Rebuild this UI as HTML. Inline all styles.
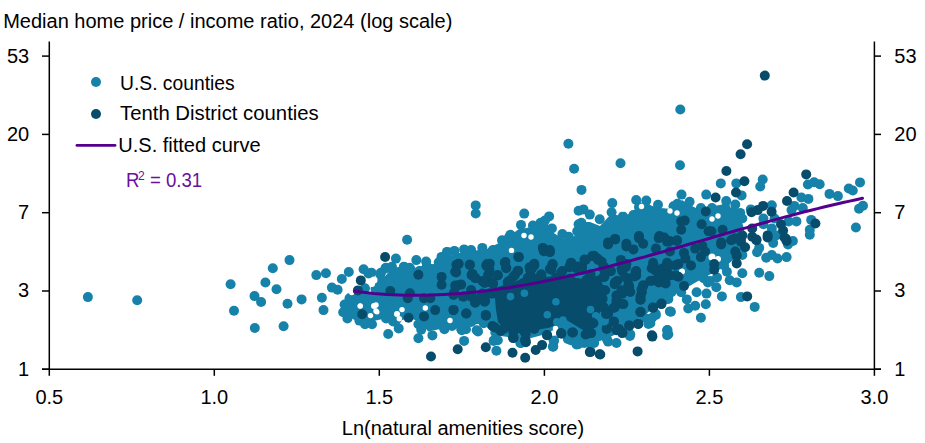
<!DOCTYPE html>
<html><head><meta charset="utf-8"><style>
html,body{margin:0;padding:0;background:#fff;width:925px;height:443px;overflow:hidden}
.t{position:absolute;font-family:"Liberation Sans",sans-serif;font-size:20px;line-height:20px;color:#000;white-space:pre;transform-origin:0 0}
svg{position:absolute;left:0;top:0}
</style></head><body>
<svg width="925" height="443" viewBox="0 0 925 443">
<g fill="#1682aa"><polygon points="341.8,303.9 349.6,292 360,291 370,293 380,290 384,278 390,270 410,271 418,266 430,266 443.9,258 455,254 463.5,252 487.1,248.9 502.8,241.1 518.5,229.3 538.2,226 547,223 552,232 562,238 570,240 577,233 581,222 590,222 600,226 611,214 622,216 633,213 637,204 647,204 658,208 673,209 682,200 690,205 700,210 713.6,205.9 726,204 736,212 743,225 746,240 738,256 726,266 705.3,276.9 676,293.6 651,310.3 634.3,322.8 613.4,335.4 585.3,347.1 568,340 560,329 550,333 526.4,339.3 495,335.3 483.2,323.5 447.8,327.5 428.2,331.4 420,322 410,318 402,320 397,328 388,318 378,320 365,323 353.6,319.6 341.8,311.8"/><circle cx="680" cy="165.3" r="5.0"/><circle cx="848.8" cy="188.5" r="5.0"/><circle cx="852.8" cy="190.5" r="5.0"/><circle cx="860" cy="182.4" r="5.0"/><circle cx="863" cy="205.7" r="5.0"/><circle cx="859" cy="208.8" r="5.0"/><circle cx="855.9" cy="227.5" r="5.0"/><circle cx="234" cy="310.8" r="5.0"/><circle cx="254.8" cy="328" r="5.0"/><circle cx="283.6" cy="326.2" r="5.0"/><circle cx="754.7" cy="306.9" r="5.0"/><circle cx="444.4" cy="329.3" r="5.0"/><circle cx="452" cy="326" r="5.0"/><circle cx="461.8" cy="330.3" r="5.0"/><circle cx="466" cy="329.3" r="5.0"/><circle cx="478" cy="331.4" r="5.0"/><circle cx="494.3" cy="340.1" r="5.0"/><circle cx="495.3" cy="332.5" r="5.0"/><circle cx="87.9" cy="297.1" r="5.0"/><circle cx="137.2" cy="300.3" r="5.0"/><circle cx="230.6" cy="284.3" r="5.0"/><circle cx="272.8" cy="268.3" r="5.0"/><circle cx="289.5" cy="260.1" r="5.0"/><circle cx="265.4" cy="282.5" r="5.0"/><circle cx="276.5" cy="289.3" r="5.0"/><circle cx="254.5" cy="296.1" r="5.0"/><circle cx="261.1" cy="302" r="5.0"/><circle cx="287.5" cy="303.7" r="5.0"/><circle cx="301.6" cy="299.4" r="5.0"/><circle cx="316.3" cy="275.1" r="5.0"/><circle cx="325.9" cy="273.2" r="5.0"/><circle cx="321.9" cy="297.8" r="5.0"/><circle cx="568.4" cy="143.8" r="5.0"/><circle cx="574.1" cy="168.7" r="5.0"/><circle cx="620.5" cy="163.2" r="5.0"/><circle cx="581.5" cy="189.9" r="5.0"/><circle cx="475.7" cy="205.4" r="5.0"/><circle cx="475.7" cy="213.5" r="5.0"/><circle cx="680.3" cy="109.5" r="5.0"/><circle cx="720.8" cy="183.4" r="5.0"/><circle cx="736.3" cy="183.4" r="5.0"/><circle cx="762.7" cy="179.5" r="5.0"/><circle cx="760.2" cy="186.5" r="5.0"/><circle cx="807.9" cy="184.5" r="5.0"/><circle cx="814.1" cy="182.3" r="5.0"/><circle cx="819.7" cy="184.2" r="5.0"/><circle cx="612.3" cy="203.1" r="5.0"/><circle cx="636.2" cy="200" r="5.0"/><circle cx="646.3" cy="200.6" r="5.0"/><circle cx="639" cy="207" r="5.0"/><circle cx="658" cy="204.8" r="5.0"/><circle cx="673.5" cy="206.2" r="5.0"/><circle cx="677.4" cy="203.8" r="5.0"/><circle cx="681.5" cy="194.6" r="5.0"/><circle cx="689.6" cy="201.7" r="5.0"/><circle cx="706.2" cy="194.6" r="5.0"/><circle cx="583.5" cy="209.4" r="5.0"/><circle cx="589.8" cy="214.6" r="5.0"/><circle cx="599.7" cy="219.2" r="5.0"/><circle cx="611.6" cy="212.2" r="5.0"/><circle cx="622.9" cy="216.4" r="5.0"/><circle cx="633.4" cy="215" r="5.0"/><circle cx="647.5" cy="209.4" r="5.0"/><circle cx="662.9" cy="213.6" r="5.0"/><circle cx="671.4" cy="217.1" r="5.0"/><circle cx="686.8" cy="217.1" r="5.0"/><circle cx="696.6" cy="215" r="5.0"/><circle cx="700.9" cy="208" r="5.0"/><circle cx="581.4" cy="222.8" r="5.0"/><circle cx="587" cy="228.4" r="5.0"/><circle cx="829.5" cy="193.9" r="5.0"/><circle cx="837.9" cy="196.1" r="5.0"/><circle cx="741.6" cy="195.4" r="5.0"/><circle cx="726.2" cy="201" r="5.0"/><circle cx="725.5" cy="208" r="5.0"/><circle cx="735.3" cy="204.5" r="5.0"/><circle cx="733.9" cy="211.5" r="5.0"/><circle cx="740.2" cy="212.9" r="5.0"/><circle cx="712" cy="208" r="5.0"/><circle cx="750.8" cy="209.4" r="5.0"/><circle cx="771.8" cy="205.2" r="5.0"/><circle cx="801.4" cy="197.5" r="5.0"/><circle cx="808.4" cy="198.9" r="5.0"/><circle cx="794.3" cy="205.9" r="5.0"/><circle cx="791.5" cy="210.1" r="5.0"/><circle cx="802.8" cy="208" r="5.0"/><circle cx="796.4" cy="221.4" r="5.0"/><circle cx="788.7" cy="221.4" r="5.0"/><circle cx="811.2" cy="219.9" r="5.0"/><circle cx="809.8" cy="229.8" r="5.0"/><circle cx="809.8" cy="234.7" r="5.0"/><circle cx="763.4" cy="218.5" r="5.0"/><circle cx="763.4" cy="224.2" r="5.0"/><circle cx="774.6" cy="218.5" r="5.0"/><circle cx="771.8" cy="228.4" r="5.0"/><circle cx="776.1" cy="235.4" r="5.0"/><circle cx="715.6" cy="222.8" r="5.0"/><circle cx="726.9" cy="221.4" r="5.0"/><circle cx="736.7" cy="222.8" r="5.0"/><circle cx="742.3" cy="218.5" r="5.0"/><circle cx="732.5" cy="217.1" r="5.0"/><circle cx="710" cy="217.1" r="5.0"/><circle cx="792.9" cy="241" r="5.0"/><circle cx="524.2" cy="213.6" r="5.0"/><circle cx="521" cy="224.9" r="5.0"/><circle cx="532.9" cy="225.6" r="5.0"/><circle cx="540.6" cy="222.8" r="5.0"/><circle cx="549.1" cy="216.4" r="5.0"/><circle cx="544.9" cy="220.6" r="5.0"/><circle cx="551.9" cy="228.4" r="5.0"/><circle cx="541.4" cy="232.6" r="5.0"/><circle cx="548.4" cy="235.4" r="5.0"/><circle cx="562.4" cy="234" r="5.0"/><circle cx="568.8" cy="236.8" r="5.0"/><circle cx="577.2" cy="231.2" r="5.0"/><circle cx="578.6" cy="224.2" r="5.0"/><circle cx="578.6" cy="210.8" r="5.0"/><circle cx="510.4" cy="234.7" r="5.0"/><circle cx="502" cy="240.3" r="5.0"/><circle cx="523.1" cy="241" r="5.0"/><circle cx="534.3" cy="241" r="5.0"/><circle cx="558.2" cy="241" r="5.0"/><circle cx="407.1" cy="239.7" r="5.0"/><circle cx="395.9" cy="258.6" r="5.0"/><circle cx="416.3" cy="260.1" r="5.0"/><circle cx="426.1" cy="261.5" r="5.0"/><circle cx="447.2" cy="252.3" r="5.0"/><circle cx="444.4" cy="257.2" r="5.0"/><circle cx="438.8" cy="262.2" r="5.0"/><circle cx="348.8" cy="272" r="5.0"/><circle cx="363.6" cy="269.2" r="5.0"/><circle cx="368.5" cy="273.4" r="5.0"/><circle cx="341.8" cy="279" r="5.0"/><circle cx="385.4" cy="268.5" r="5.0"/><circle cx="391.7" cy="267.8" r="5.0"/><circle cx="404.3" cy="267.1" r="5.0"/><circle cx="409.9" cy="268.5" r="5.0"/><circle cx="380.4" cy="274.1" r="5.0"/><circle cx="398.7" cy="272" r="5.0"/><circle cx="426.8" cy="266.4" r="5.0"/><circle cx="432.4" cy="269.2" r="5.0"/><circle cx="379" cy="280.4" r="5.0"/><circle cx="387.5" cy="280.4" r="5.0"/><circle cx="323.5" cy="310.1" r="5.0"/><circle cx="331.9" cy="287.6" r="5.0"/><circle cx="337.6" cy="289.7" r="5.0"/><circle cx="365" cy="288.3" r="5.0"/><circle cx="344.6" cy="304.5" r="5.0"/><circle cx="349.5" cy="298.2" r="5.0"/><circle cx="343.2" cy="312.2" r="5.0"/><circle cx="347.4" cy="318.5" r="5.0"/><circle cx="354.4" cy="301.7" r="5.0"/><circle cx="368.5" cy="303.1" r="5.0"/><circle cx="359.4" cy="320.6" r="5.0"/><circle cx="365" cy="324.2" r="5.0"/><circle cx="372" cy="324.2" r="5.0"/><circle cx="355.8" cy="308.7" r="5.0"/><circle cx="376.2" cy="314.3" r="5.0"/><circle cx="380.4" cy="310.1" r="5.0"/><circle cx="375.5" cy="289" r="5.0"/><circle cx="377.6" cy="297.5" r="5.0"/><circle cx="395.9" cy="301.7" r="5.0"/><circle cx="386.1" cy="318.5" r="5.0"/><circle cx="393.1" cy="321.4" r="5.0"/><circle cx="398.7" cy="328.4" r="5.0"/><circle cx="388.2" cy="334" r="5.0"/><circle cx="407.1" cy="308.7" r="5.0"/><circle cx="402.9" cy="313.6" r="5.0"/><circle cx="418.4" cy="305.2" r="5.0"/><circle cx="415.6" cy="310.1" r="5.0"/><circle cx="418.4" cy="324.2" r="5.0"/><circle cx="421.2" cy="329.8" r="5.0"/><circle cx="418.4" cy="338.2" r="5.0"/><circle cx="432.4" cy="335.4" r="5.0"/><circle cx="443.7" cy="327" r="5.0"/><circle cx="446.5" cy="318.5" r="5.0"/><circle cx="438.1" cy="318.5" r="5.0"/><circle cx="398.7" cy="283.4" r="5.0"/><circle cx="418.4" cy="284.8" r="5.0"/><circle cx="380.4" cy="284.8" r="5.0"/><circle cx="454.2" cy="251.5" r="5.0"/><circle cx="464.1" cy="249.4" r="5.0"/><circle cx="471.1" cy="250.1" r="5.0"/><circle cx="482.3" cy="247.9" r="5.0"/><circle cx="492.9" cy="250.1" r="5.0"/><circle cx="509" cy="237.4" r="5.0"/><circle cx="528.7" cy="240.2" r="5.0"/><circle cx="535.7" cy="237.4" r="5.0"/><circle cx="464.1" cy="340.9" r="5.0"/><circle cx="496.4" cy="350.7" r="5.0"/><circle cx="493.6" cy="340.9" r="5.0"/><circle cx="553.3" cy="346.5" r="5.0"/><circle cx="554" cy="340.9" r="5.0"/><circle cx="520.3" cy="343" r="5.0"/><circle cx="570.9" cy="340.2" r="5.0"/><circle cx="576.5" cy="344.4" r="5.0"/><circle cx="565.2" cy="324.7" r="5.0"/><circle cx="452.8" cy="324.7" r="5.0"/><circle cx="461.2" cy="328.9" r="5.0"/><circle cx="476.7" cy="330.3" r="5.0"/><circle cx="483.7" cy="323.3" r="5.0"/><circle cx="471.1" cy="321.9" r="5.0"/><circle cx="457" cy="305" r="5.0"/><circle cx="471.1" cy="306.4" r="5.0"/><circle cx="489.4" cy="306.4" r="5.0"/><circle cx="706.5" cy="262.7" r="5.0"/><circle cx="703.7" cy="278.2" r="5.0"/><circle cx="707.9" cy="282.4" r="5.0"/><circle cx="696.6" cy="273.9" r="5.0"/><circle cx="686.8" cy="273.9" r="5.0"/><circle cx="671.4" cy="292.2" r="5.0"/><circle cx="681.2" cy="292.2" r="5.0"/><circle cx="696.6" cy="292.2" r="5.0"/><circle cx="706.5" cy="293.6" r="5.0"/><circle cx="658.7" cy="295" r="5.0"/><circle cx="688.2" cy="281" r="5.0"/><circle cx="669.9" cy="311.4" r="5.0"/><circle cx="667.1" cy="330.3" r="5.0"/><circle cx="667.1" cy="335.2" r="5.0"/><circle cx="688.2" cy="308.5" r="5.0"/><circle cx="695.2" cy="305.7" r="5.0"/><circle cx="700.9" cy="317.7" r="5.0"/><circle cx="705.8" cy="304.3" r="5.0"/><circle cx="686.8" cy="299.4" r="5.0"/><circle cx="667.1" cy="298.7" r="5.0"/><circle cx="650.3" cy="323.3" r="5.0"/><circle cx="655.9" cy="314.9" r="5.0"/><circle cx="644.6" cy="317.7" r="5.0"/><circle cx="629.9" cy="335.9" r="5.0"/><circle cx="616.5" cy="343" r="5.0"/><circle cx="608.1" cy="341.6" r="5.0"/><circle cx="594.1" cy="343" r="5.0"/><circle cx="584.2" cy="343" r="5.0"/><circle cx="626.4" cy="316.3" r="5.0"/><circle cx="630.6" cy="310.6" r="5.0"/><circle cx="773.2" cy="243" r="5.0"/><circle cx="788" cy="244.4" r="5.0"/><circle cx="759.2" cy="247.9" r="5.0"/><circle cx="757.1" cy="252.2" r="5.0"/><circle cx="766.2" cy="257.8" r="5.0"/><circle cx="771.8" cy="255" r="5.0"/><circle cx="777.5" cy="258.5" r="5.0"/><circle cx="786.6" cy="257.1" r="5.0"/><circle cx="742.3" cy="255" r="5.0"/><circle cx="728.3" cy="250.1" r="5.0"/><circle cx="715.6" cy="251.5" r="5.0"/><circle cx="717" cy="257.1" r="5.0"/><circle cx="724.1" cy="265.5" r="5.0"/><circle cx="726.9" cy="271.8" r="5.0"/><circle cx="742.3" cy="273.2" r="5.0"/><circle cx="759.2" cy="272.8" r="5.0"/><circle cx="769.3" cy="276.1" r="5.0"/><circle cx="729.7" cy="280.3" r="5.0"/><circle cx="736.7" cy="282.4" r="5.0"/><circle cx="717" cy="277.5" r="5.0"/><circle cx="716.3" cy="287.3" r="5.0"/><circle cx="710" cy="281" r="5.0"/><circle cx="721.9" cy="296.4" r="5.0"/><circle cx="740.9" cy="297.1" r="5.0"/><circle cx="447" cy="251.9" r="5.0"/><circle cx="454.4" cy="250.9" r="5.0"/><circle cx="439.5" cy="262.8" r="5.0"/><circle cx="441.5" cy="256.9" r="5.0"/><circle cx="385.9" cy="267.8" r="5.0"/><circle cx="391.9" cy="266.8" r="5.0"/><circle cx="403.8" cy="266.8" r="5.0"/><circle cx="409.7" cy="267.8" r="5.0"/><circle cx="380.9" cy="272.7" r="5.0"/><circle cx="371.5" cy="272.7" r="5.0"/><circle cx="429.6" cy="268.8" r="5.0"/><circle cx="497.8" cy="340.3" r="5.0"/><circle cx="521.1" cy="342.9" r="5.0"/><circle cx="553.6" cy="340.3" r="5.0"/><circle cx="552.9" cy="346.8" r="5.0"/><circle cx="567.8" cy="339" r="5.0"/><circle cx="578.2" cy="344.2" r="5.0"/><circle cx="588.6" cy="342.9" r="5.0"/><circle cx="606.8" cy="339" r="5.0"/><circle cx="670.9" cy="311.8" r="5.0"/><circle cx="667.5" cy="330" r="5.0"/><circle cx="668.3" cy="334.3" r="5.0"/><circle cx="651.9" cy="317.9" r="5.0"/><circle cx="655.4" cy="313.6" r="5.0"/><circle cx="648.4" cy="323.9" r="5.0"/><circle cx="628.5" cy="317" r="5.0"/><circle cx="632.9" cy="313.6" r="5.0"/><circle cx="630.3" cy="334.3" r="5.0"/><circle cx="601.7" cy="318.8" r="5.0"/><circle cx="602.6" cy="332.6" r="5.0"/><circle cx="628.5" cy="299.7" r="5.0"/><circle cx="668.3" cy="298.9" r="5.0"/></g>
<g fill="#fff"><circle cx="351.7" cy="292.5" r="2.7"/><circle cx="376" cy="305" r="2.7"/><circle cx="376" cy="311" r="2.7"/><circle cx="370.5" cy="315.6" r="2.7"/><circle cx="402" cy="309.6" r="2.7"/><circle cx="425.3" cy="308" r="2.7"/><circle cx="399.3" cy="318.8" r="2.7"/><circle cx="410.2" cy="327.5" r="2.7"/><circle cx="524" cy="235.5" r="2.7"/><circle cx="531" cy="237" r="2.7"/><circle cx="511.5" cy="250.4" r="2.7"/><circle cx="555.5" cy="328.5" r="2.7"/><circle cx="553.5" cy="333" r="2.7"/><circle cx="487.4" cy="331" r="2.7"/><circle cx="450" cy="320.5" r="2.7"/><circle cx="360.3" cy="306" r="2.7"/><circle cx="670" cy="211" r="2.7"/><circle cx="677" cy="213" r="2.7"/><circle cx="712" cy="219" r="2.7"/><circle cx="718" cy="216" r="2.7"/><circle cx="623" cy="209" r="2.7"/><circle cx="641.5" cy="206.5" r="2.7"/><circle cx="374" cy="280" r="3.5"/><circle cx="372" cy="284" r="3.0"/><circle cx="360" cy="306" r="2.5"/><circle cx="374" cy="306" r="3.0"/><circle cx="377" cy="312" r="2.5"/><circle cx="397" cy="314" r="3.0"/><circle cx="712" cy="257" r="3.5"/><circle cx="718" cy="259" r="3.0"/><circle cx="682" cy="271.5" r="3.0"/></g>
<g fill="#084c6c"><polygon points="494,288.2 518.5,280.3 550,276.4 581.4,280.3 600,275 604,290 600,312 592.5,330 585.3,331.4 565.7,319.6 550,327.5 530,331 515,334 505,329 498,322 496,310"/><circle cx="431" cy="356.5" r="5.0"/><circle cx="492.5" cy="326" r="5.0"/><circle cx="500.6" cy="331" r="5.0"/><circle cx="513.5" cy="337.5" r="5.0"/><circle cx="525.5" cy="340" r="5.0"/><circle cx="764.8" cy="75.6" r="5.0"/><circle cx="747.1" cy="144.3" r="5.0"/><circle cx="740.6" cy="154.2" r="5.0"/><circle cx="726.4" cy="171" r="5.0"/><circle cx="806.2" cy="174.4" r="5.0"/><circle cx="744.4" cy="181.3" r="5.0"/><circle cx="681.2" cy="221.4" r="5.0"/><circle cx="684.7" cy="220.6" r="5.0"/><circle cx="681.2" cy="229.8" r="5.0"/><circle cx="701.6" cy="224.2" r="5.0"/><circle cx="705.8" cy="211.5" r="5.0"/><circle cx="708.6" cy="231.2" r="5.0"/><circle cx="639" cy="236.1" r="5.0"/><circle cx="659.4" cy="236.1" r="5.0"/><circle cx="664.3" cy="237.5" r="5.0"/><circle cx="677" cy="240.3" r="5.0"/><circle cx="615.1" cy="238.9" r="5.0"/><circle cx="608.1" cy="242.4" r="5.0"/><circle cx="626.4" cy="243.8" r="5.0"/><circle cx="669.9" cy="241" r="5.0"/><circle cx="715.6" cy="197.5" r="5.0"/><circle cx="736" cy="192.5" r="5.0"/><circle cx="751.5" cy="212.2" r="5.0"/><circle cx="757.8" cy="210.1" r="5.0"/><circle cx="763.1" cy="205.9" r="5.0"/><circle cx="771.6" cy="211.8" r="5.0"/><circle cx="787" cy="201" r="5.0"/><circle cx="793.6" cy="192.5" r="5.0"/><circle cx="815.4" cy="223.5" r="5.0"/><circle cx="781" cy="224.2" r="5.0"/><circle cx="783.1" cy="230.5" r="5.0"/><circle cx="784.5" cy="237.5" r="5.0"/><circle cx="786.6" cy="241" r="5.0"/><circle cx="767.6" cy="235.4" r="5.0"/><circle cx="752.2" cy="228.4" r="5.0"/><circle cx="752.2" cy="236.8" r="5.0"/><circle cx="756.4" cy="239.6" r="5.0"/><circle cx="742.3" cy="235.4" r="5.0"/><circle cx="735.3" cy="238.2" r="5.0"/><circle cx="731.1" cy="240.3" r="5.0"/><circle cx="722.6" cy="229.8" r="5.0"/><circle cx="711.4" cy="231.2" r="5.0"/><circle cx="721.2" cy="242.4" r="5.0"/><circle cx="385.1" cy="257" r="5.0"/><circle cx="360.8" cy="280.4" r="5.0"/><circle cx="418.4" cy="274.8" r="5.0"/><circle cx="441.6" cy="276.9" r="5.0"/><circle cx="357.9" cy="290.4" r="5.0"/><circle cx="362.2" cy="314.3" r="5.0"/><circle cx="390.3" cy="291.1" r="5.0"/><circle cx="409.9" cy="293.2" r="5.0"/><circle cx="407.8" cy="298.2" r="5.0"/><circle cx="408.5" cy="317.8" r="5.0"/><circle cx="424" cy="298.2" r="5.0"/><circle cx="430.3" cy="298.2" r="5.0"/><circle cx="424" cy="316.4" r="5.0"/><circle cx="435.2" cy="310.1" r="5.0"/><circle cx="441.6" cy="284.8" r="5.0"/><circle cx="542.8" cy="247.9" r="5.0"/><circle cx="549.8" cy="250.1" r="5.0"/><circle cx="518.9" cy="257.1" r="5.0"/><circle cx="458.4" cy="264.1" r="5.0"/><circle cx="455.6" cy="271.8" r="5.0"/><circle cx="469.7" cy="264.8" r="5.0"/><circle cx="472.5" cy="273.9" r="5.0"/><circle cx="475.3" cy="278.2" r="5.0"/><circle cx="487.2" cy="264.1" r="5.0"/><circle cx="489.4" cy="269.7" r="5.0"/><circle cx="497.8" cy="275.4" r="5.0"/><circle cx="504.8" cy="262.7" r="5.0"/><circle cx="506.2" cy="267.6" r="5.0"/><circle cx="517.5" cy="271.1" r="5.0"/><circle cx="513.2" cy="276.8" r="5.0"/><circle cx="507.6" cy="282.4" r="5.0"/><circle cx="482.3" cy="281" r="5.0"/><circle cx="490.8" cy="282.4" r="5.0"/><circle cx="458.4" cy="285.2" r="5.0"/><circle cx="471.1" cy="290.1" r="5.0"/><circle cx="454.2" cy="292.2" r="5.0"/><circle cx="534.3" cy="265.5" r="5.0"/><circle cx="530.1" cy="269.7" r="5.0"/><circle cx="541.4" cy="275.4" r="5.0"/><circle cx="528.7" cy="278.2" r="5.0"/><circle cx="523.1" cy="283.8" r="5.0"/><circle cx="552.6" cy="264.1" r="5.0"/><circle cx="551.2" cy="269.7" r="5.0"/><circle cx="562.4" cy="271.1" r="5.0"/><circle cx="570.9" cy="262.7" r="5.0"/><circle cx="569.5" cy="266.9" r="5.0"/><circle cx="576.5" cy="268.3" r="5.0"/><circle cx="537.1" cy="285.2" r="5.0"/><circle cx="548.4" cy="282.4" r="5.0"/><circle cx="562.4" cy="283.8" r="5.0"/><circle cx="573.7" cy="282.4" r="5.0"/><circle cx="534.3" cy="292.2" r="5.0"/><circle cx="548.4" cy="292.2" r="5.0"/><circle cx="562.4" cy="293.6" r="5.0"/><circle cx="576.5" cy="292.2" r="5.0"/><circle cx="492.2" cy="293.6" r="5.0"/><circle cx="506.2" cy="293.6" r="5.0"/><circle cx="520.3" cy="293.6" r="5.0"/><circle cx="482.3" cy="293.6" r="5.0"/><circle cx="464.1" cy="296.4" r="5.0"/><circle cx="457.7" cy="349.3" r="5.0"/><circle cx="485.8" cy="347.2" r="5.0"/><circle cx="512.5" cy="352.8" r="5.0"/><circle cx="525.2" cy="357.7" r="5.0"/><circle cx="535.7" cy="350" r="5.0"/><circle cx="542.1" cy="345.1" r="5.0"/><circle cx="547" cy="335.2" r="5.0"/><circle cx="525.9" cy="342.3" r="5.0"/><circle cx="513.2" cy="338.1" r="5.0"/><circle cx="561" cy="333.1" r="5.0"/><circle cx="572.3" cy="332.4" r="5.0"/><circle cx="453.5" cy="309.9" r="5.0"/><circle cx="466.2" cy="313.5" r="5.0"/><circle cx="485.8" cy="314.9" r="5.0"/><circle cx="475.3" cy="302.2" r="5.0"/><circle cx="485.1" cy="300.8" r="5.0"/><circle cx="495" cy="327.5" r="5.0"/><circle cx="503.4" cy="328.9" r="5.0"/><circle cx="513.2" cy="331.7" r="5.0"/><circle cx="524.5" cy="331.7" r="5.0"/><circle cx="534.3" cy="328.9" r="5.0"/><circle cx="545.6" cy="323.3" r="5.0"/><circle cx="608.1" cy="244.4" r="5.0"/><circle cx="615.1" cy="239.5" r="5.0"/><circle cx="626.4" cy="246.5" r="5.0"/><circle cx="633.4" cy="249.4" r="5.0"/><circle cx="639" cy="238.1" r="5.0"/><circle cx="643.2" cy="243.7" r="5.0"/><circle cx="655.9" cy="248.6" r="5.0"/><circle cx="658.7" cy="238.1" r="5.0"/><circle cx="667.1" cy="241.6" r="5.0"/><circle cx="677" cy="240.9" r="5.0"/><circle cx="669.9" cy="251.5" r="5.0"/><circle cx="684" cy="252.9" r="5.0"/><circle cx="685.4" cy="258.5" r="5.0"/><circle cx="695.2" cy="248.6" r="5.0"/><circle cx="702.3" cy="245.8" r="5.0"/><circle cx="700.9" cy="257.1" r="5.0"/><circle cx="705.1" cy="251.5" r="5.0"/><circle cx="585.6" cy="259.9" r="5.0"/><circle cx="594.1" cy="255.7" r="5.0"/><circle cx="598.3" cy="259.9" r="5.0"/><circle cx="582.1" cy="266.9" r="5.0"/><circle cx="620.8" cy="259.9" r="5.0"/><circle cx="626.4" cy="264.1" r="5.0"/><circle cx="603.9" cy="266.9" r="5.0"/><circle cx="610.9" cy="271.1" r="5.0"/><circle cx="622.2" cy="271.1" r="5.0"/><circle cx="636.2" cy="271.1" r="5.0"/><circle cx="636.2" cy="275.4" r="5.0"/><circle cx="627.8" cy="278.2" r="5.0"/><circle cx="615.1" cy="282.4" r="5.0"/><circle cx="629.2" cy="286.6" r="5.0"/><circle cx="603.9" cy="276.8" r="5.0"/><circle cx="588.4" cy="278.2" r="5.0"/><circle cx="585.6" cy="288" r="5.0"/><circle cx="601.1" cy="289.4" r="5.0"/><circle cx="622.2" cy="293.6" r="5.0"/><circle cx="594.1" cy="295" r="5.0"/><circle cx="653.1" cy="262.7" r="5.0"/><circle cx="651.7" cy="268.3" r="5.0"/><circle cx="667.1" cy="262.7" r="5.0"/><circle cx="667.1" cy="268.3" r="5.0"/><circle cx="658.7" cy="275.4" r="5.0"/><circle cx="669.9" cy="275.4" r="5.0"/><circle cx="678.4" cy="264.1" r="5.0"/><circle cx="691" cy="265.5" r="5.0"/><circle cx="678.4" cy="276.8" r="5.0"/><circle cx="664.3" cy="282.4" r="5.0"/><circle cx="650.3" cy="281" r="5.0"/><circle cx="643.2" cy="285.2" r="5.0"/><circle cx="641.8" cy="292.2" r="5.0"/><circle cx="684" cy="285.9" r="5.0"/><circle cx="582.8" cy="300.8" r="5.0"/><circle cx="594.1" cy="300.8" r="5.0"/><circle cx="582.8" cy="310.6" r="5.0"/><circle cx="587" cy="316.3" r="5.0"/><circle cx="580" cy="321.9" r="5.0"/><circle cx="593.4" cy="323.3" r="5.0"/><circle cx="603.9" cy="307.8" r="5.0"/><circle cx="608.1" cy="313.5" r="5.0"/><circle cx="613.7" cy="307.8" r="5.0"/><circle cx="620.8" cy="303.6" r="5.0"/><circle cx="640.4" cy="299.4" r="5.0"/><circle cx="640.4" cy="312.1" r="5.0"/><circle cx="653.1" cy="307.8" r="5.0"/><circle cx="661.5" cy="303.6" r="5.0"/><circle cx="613.7" cy="321.9" r="5.0"/><circle cx="606.7" cy="328.9" r="5.0"/><circle cx="616.5" cy="330.3" r="5.0"/><circle cx="622.2" cy="333.1" r="5.0"/><circle cx="629.2" cy="325.4" r="5.0"/><circle cx="638.3" cy="324" r="5.0"/><circle cx="585.6" cy="334.5" r="5.0"/><circle cx="591.2" cy="333.1" r="5.0"/><circle cx="652.4" cy="336.6" r="5.0"/><circle cx="637.6" cy="351.4" r="5.0"/><circle cx="589.8" cy="352.1" r="5.0"/><circle cx="599.7" cy="354.2" r="5.0"/><circle cx="721.2" cy="244.4" r="5.0"/><circle cx="732.5" cy="239.5" r="5.0"/><circle cx="740.9" cy="241.6" r="5.0"/><circle cx="745.1" cy="247.2" r="5.0"/><circle cx="735.3" cy="251.5" r="5.0"/><circle cx="736.7" cy="255.7" r="5.0"/><circle cx="736.7" cy="263.4" r="5.0"/><circle cx="756.4" cy="240.2" r="5.0"/><circle cx="767.6" cy="237.4" r="5.0"/><circle cx="785.9" cy="238.8" r="5.0"/><circle cx="714.2" cy="264.1" r="5.0"/><circle cx="714.2" cy="269.7" r="5.0"/><circle cx="747.2" cy="296.4" r="5.0"/><circle cx="458.6" cy="263.8" r="5.0"/><circle cx="456.1" cy="272.5" r="5.0"/><circle cx="469.9" cy="264.7" r="5.0"/><circle cx="471.6" cy="275.1" r="5.0"/><circle cx="475.1" cy="277.7" r="5.0"/><circle cx="486.3" cy="265.6" r="5.0"/><circle cx="489.8" cy="263.8" r="5.0"/><circle cx="488.1" cy="275.1" r="5.0"/><circle cx="497.6" cy="275.1" r="5.0"/><circle cx="484.6" cy="282.9" r="5.0"/><circle cx="493.2" cy="283.7" r="5.0"/><circle cx="505.4" cy="262.1" r="5.0"/><circle cx="506.2" cy="268.2" r="5.0"/><circle cx="518.3" cy="256.9" r="5.0"/><circle cx="518.3" cy="270.8" r="5.0"/><circle cx="514.9" cy="275.1" r="5.0"/><circle cx="508.8" cy="281.1" r="5.0"/><circle cx="529.6" cy="267.3" r="5.0"/><circle cx="527.8" cy="277.7" r="5.0"/><circle cx="461.2" cy="284.6" r="5.0"/><circle cx="455.2" cy="285.5" r="5.0"/><circle cx="523.5" cy="282.9" r="5.0"/><circle cx="543.8" cy="251.3" r="5.0"/><circle cx="549.9" cy="252.2" r="5.0"/><circle cx="534.3" cy="263.8" r="5.0"/><circle cx="531.7" cy="269" r="5.0"/><circle cx="552.5" cy="264.7" r="5.0"/><circle cx="549.9" cy="269" r="5.0"/><circle cx="541.2" cy="274.2" r="5.0"/><circle cx="532.6" cy="277.7" r="5.0"/><circle cx="561.1" cy="272.5" r="5.0"/><circle cx="571.5" cy="263" r="5.0"/><circle cx="569.8" cy="267.3" r="5.0"/><circle cx="578.4" cy="266.4" r="5.0"/><circle cx="584.5" cy="259.5" r="5.0"/><circle cx="592.3" cy="256.1" r="5.0"/><circle cx="597.5" cy="258.6" r="5.0"/><circle cx="581.9" cy="269.9" r="5.0"/><circle cx="590.5" cy="274.2" r="5.0"/><circle cx="603.5" cy="267.3" r="5.0"/><circle cx="604.4" cy="276.8" r="5.0"/><circle cx="594.9" cy="282.9" r="5.0"/><circle cx="577.6" cy="282.9" r="5.0"/><circle cx="564.6" cy="282.9" r="5.0"/><circle cx="551.6" cy="282.9" r="5.0"/><circle cx="538.6" cy="284.6" r="5.0"/><circle cx="586.2" cy="280.3" r="5.0"/><circle cx="569.8" cy="278.5" r="5.0"/><circle cx="555.9" cy="277.7" r="5.0"/><circle cx="453.5" cy="310.1" r="5.0"/><circle cx="466.4" cy="313.5" r="5.0"/><circle cx="485.9" cy="315.7" r="5.0"/><circle cx="475.1" cy="302.7" r="5.0"/><circle cx="484.6" cy="301.8" r="5.0"/><circle cx="453.5" cy="294.9" r="5.0"/><circle cx="463" cy="296.6" r="5.0"/><circle cx="471.6" cy="296.6" r="5.0"/><circle cx="480.3" cy="297.5" r="5.0"/><circle cx="489.8" cy="293.2" r="5.0"/><circle cx="456.4" cy="264.8" r="5.0"/><circle cx="455.4" cy="271.8" r="5.0"/><circle cx="513.4" cy="337.7" r="5.0"/><circle cx="525" cy="340.3" r="5.0"/><circle cx="525.7" cy="333.8" r="5.0"/><circle cx="547.1" cy="335.1" r="5.0"/><circle cx="561.4" cy="333.8" r="5.0"/><circle cx="573" cy="332.5" r="5.0"/><circle cx="587.3" cy="333.8" r="5.0"/><circle cx="590.5" cy="351.9" r="5.0"/><circle cx="600.3" cy="354.5" r="5.0"/><circle cx="603.5" cy="268.6" r="5.0"/><circle cx="610.4" cy="271.2" r="5.0"/><circle cx="603.5" cy="277.3" r="5.0"/><circle cx="605.2" cy="290.3" r="5.0"/><circle cx="621.6" cy="268.6" r="5.0"/><circle cx="625.9" cy="266.9" r="5.0"/><circle cx="635.5" cy="272.1" r="5.0"/><circle cx="634.6" cy="276.4" r="5.0"/><circle cx="617.3" cy="280.8" r="5.0"/><circle cx="625.1" cy="277.3" r="5.0"/><circle cx="614.7" cy="284.2" r="5.0"/><circle cx="628.5" cy="284.2" r="5.0"/><circle cx="621.6" cy="290.3" r="5.0"/><circle cx="630.3" cy="292" r="5.0"/><circle cx="616.4" cy="295.5" r="5.0"/><circle cx="640.6" cy="296.3" r="5.0"/><circle cx="643.2" cy="285.9" r="5.0"/><circle cx="641.5" cy="289.4" r="5.0"/><circle cx="651.9" cy="280.8" r="5.0"/><circle cx="658.8" cy="282.5" r="5.0"/><circle cx="665.7" cy="283.4" r="5.0"/><circle cx="653.6" cy="265.2" r="5.0"/><circle cx="655.4" cy="270.4" r="5.0"/><circle cx="662.3" cy="268.6" r="5.0"/><circle cx="667.5" cy="264.3" r="5.0"/><circle cx="675.2" cy="265.2" r="5.0"/><circle cx="676.1" cy="275.6" r="5.0"/><circle cx="665.7" cy="275.6" r="5.0"/><circle cx="660.5" cy="276.4" r="5.0"/><circle cx="601.7" cy="261.7" r="5.0"/><circle cx="602.6" cy="298.9" r="5.0"/><circle cx="603.5" cy="307.5" r="5.0"/><circle cx="607.8" cy="313.6" r="5.0"/><circle cx="616.4" cy="300.6" r="5.0"/><circle cx="623.4" cy="304.1" r="5.0"/><circle cx="614.7" cy="307.5" r="5.0"/><circle cx="640.6" cy="299.7" r="5.0"/><circle cx="640.6" cy="311.8" r="5.0"/><circle cx="652.8" cy="307.5" r="5.0"/><circle cx="661.4" cy="304.1" r="5.0"/><circle cx="613.8" cy="321.4" r="5.0"/><circle cx="606.9" cy="328.3" r="5.0"/><circle cx="619" cy="329.1" r="5.0"/><circle cx="622.5" cy="332.6" r="5.0"/><circle cx="629.4" cy="325.7" r="5.0"/><circle cx="638.1" cy="323.9" r="5.0"/><circle cx="651.9" cy="335.2" r="5.0"/></g>
<g fill="#1682aa"><circle cx="556.8" cy="321.9" r="3.8"/><circle cx="510.5" cy="296.6" r="3.8"/><circle cx="524.4" cy="293.2" r="3.8"/><circle cx="555.9" cy="301.8" r="3.8"/><circle cx="590.5" cy="309.6" r="3.8"/><circle cx="595.7" cy="315.7" r="3.8"/><circle cx="604.4" cy="321.7" r="3.8"/><circle cx="562.9" cy="320" r="3.8"/><circle cx="547.3" cy="314.8" r="3.8"/></g>
<g fill="#084c6c"><circle cx="603.5" cy="307" r="5.0"/><circle cx="606.1" cy="313.9" r="5.0"/><circle cx="592.3" cy="322.6" r="5.0"/></g>
<path d="M354.5,291.2 L360.9,292.0 L367.4,292.7 L373.8,293.4 L380.2,293.9 L386.7,294.4 L393.1,294.7 L399.5,295.0 L405.9,295.2 L412.4,295.3 L418.8,295.3 L425.2,295.2 L431.7,295.1 L438.1,294.8 L444.5,294.5 L451.0,294.1 L457.4,293.7 L463.8,293.2 L470.2,292.6 L476.7,291.9 L483.1,291.2 L489.5,290.4 L496.0,289.5 L502.4,288.6 L508.8,287.7 L515.3,286.6 L521.7,285.6 L528.1,284.4 L534.6,283.2 L541.0,282.0 L547.4,280.7 L553.8,279.4 L560.3,278.0 L566.7,276.6 L573.1,275.2 L579.6,273.7 L586.0,272.1 L592.4,270.6 L598.9,269.0 L605.3,267.4 L611.7,265.7 L618.1,264.0 L624.6,262.3 L631.0,260.6 L637.4,258.8 L643.9,257.1 L650.3,255.3 L656.7,253.5 L663.2,251.7 L669.6,249.8 L676.0,248.0 L682.4,246.2 L688.9,244.3 L695.3,242.4 L701.7,240.6 L708.2,238.7 L714.6,236.8 L721.0,235.0 L727.5,233.1 L733.9,231.3 L740.3,229.4 L746.8,227.6 L753.2,225.8 L759.6,224.0 L766.0,222.2 L772.5,220.4 L778.9,218.6 L785.3,216.9 L791.8,215.2 L798.2,213.5 L804.6,211.8 L811.1,210.2 L817.5,208.6 L823.9,207.0 L830.3,205.5 L836.8,204.0 L843.2,202.5 L849.6,201.1 L856.1,199.7 L862.5,198.3" fill="none" stroke="#55008c" stroke-width="3" stroke-linecap="round"/>
<line x1="49.3" y1="41.5" x2="49.3" y2="369.2" stroke="#000" stroke-width="1.5"/><line x1="874.4" y1="41.5" x2="874.4" y2="369.2" stroke="#000" stroke-width="1.5"/><line x1="42" y1="369.2" x2="881" y2="369.2" stroke="#000" stroke-width="1.5"/><line x1="42" y1="56.1" x2="49.3" y2="56.1" stroke="#000" stroke-width="1.5"/><line x1="874.4" y1="56.1" x2="881" y2="56.1" stroke="#000" stroke-width="1.5"/><line x1="42" y1="134.4" x2="49.3" y2="134.4" stroke="#000" stroke-width="1.5"/><line x1="874.4" y1="134.4" x2="881" y2="134.4" stroke="#000" stroke-width="1.5"/><line x1="42" y1="212.7" x2="49.3" y2="212.7" stroke="#000" stroke-width="1.5"/><line x1="874.4" y1="212.7" x2="881" y2="212.7" stroke="#000" stroke-width="1.5"/><line x1="42" y1="291.0" x2="49.3" y2="291.0" stroke="#000" stroke-width="1.5"/><line x1="874.4" y1="291.0" x2="881" y2="291.0" stroke="#000" stroke-width="1.5"/><line x1="42" y1="369.2" x2="49.3" y2="369.2" stroke="#000" stroke-width="1.5"/><line x1="874.4" y1="369.2" x2="881" y2="369.2" stroke="#000" stroke-width="1.5"/><line x1="49.3" y1="369.2" x2="49.3" y2="375.8" stroke="#000" stroke-width="1.5"/><line x1="214.3" y1="369.2" x2="214.3" y2="375.8" stroke="#000" stroke-width="1.5"/><line x1="379.3" y1="369.2" x2="379.3" y2="375.8" stroke="#000" stroke-width="1.5"/><line x1="544.4" y1="369.2" x2="544.4" y2="375.8" stroke="#000" stroke-width="1.5"/><line x1="709.4" y1="369.2" x2="709.4" y2="375.8" stroke="#000" stroke-width="1.5"/><line x1="874.4" y1="369.2" x2="874.4" y2="375.8" stroke="#000" stroke-width="1.5"/>
<circle cx="96" cy="82" r="5.0" fill="#1682aa"/>
<circle cx="96" cy="114" r="5.0" fill="#084c6c"/>
<line x1="77" y1="145.4" x2="115" y2="145.4" stroke="#55008c" stroke-width="2.9" stroke-linecap="round"/>
</svg>
<div class="t" style="left:3.2px;top:10.6px">Median home price / income ratio, 2024 (log scale)</div>
<div class="t" style="left:341.8px;top:417.7px">Ln(natural amenities score)</div>
<div class="t" style="left:119.6px;top:72.6px;transform:scaleX(0.964)">U.S. counties</div>
<div class="t" style="left:119.7px;top:103px;transform:scaleX(1.016)">Tenth District counties</div>
<div class="t" style="left:118.3px;top:135.3px">U.S. fitted curve</div>
<div class="t" style="left:126.3px;top:169.5px;color:#6a10a0;transform:scaleX(0.93)">R<span style="font-size:13px;position:relative;top:-7px;margin-left:-1.5px">2</span> = 0.31</div>
<div class="t" style="left:0;width:29.2px;text-align:right;top:45.5px">53</div>
<div class="t" style="left:894.3px;top:45.5px">53</div>
<div class="t" style="left:0;width:29.2px;text-align:right;top:123.8px">20</div>
<div class="t" style="left:894.3px;top:123.8px">20</div>
<div class="t" style="left:0;width:29.2px;text-align:right;top:202.1px">7</div>
<div class="t" style="left:894.3px;top:202.1px">7</div>
<div class="t" style="left:0;width:29.2px;text-align:right;top:280.4px">3</div>
<div class="t" style="left:894.3px;top:280.4px">3</div>
<div class="t" style="left:0;width:29.2px;text-align:right;top:358.6px">1</div>
<div class="t" style="left:894.3px;top:358.6px">1</div>
<div class="t" style="left:-0.7px;width:100px;text-align:center;top:387px">0.5</div>
<div class="t" style="left:164.3px;width:100px;text-align:center;top:387px">1.0</div>
<div class="t" style="left:329.3px;width:100px;text-align:center;top:387px">1.5</div>
<div class="t" style="left:494.4px;width:100px;text-align:center;top:387px">2.0</div>
<div class="t" style="left:659.4px;width:100px;text-align:center;top:387px">2.5</div>
<div class="t" style="left:824.4px;width:100px;text-align:center;top:387px">3.0</div>
</body></html>
